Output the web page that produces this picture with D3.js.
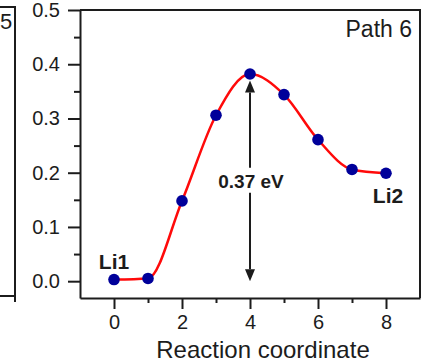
<!DOCTYPE html>
<html>
<head>
<meta charset="utf-8">
<script src="https://cdn.jsdelivr.net/npm/d3@7"></script>
<style>
  body { margin: 0; background: #fff; }
  svg { display: block; font-family: "Liberation Sans", Arial, sans-serif; }
</style>
</head>
<body>
<svg id="chart" width="426" height="364"></svg>
<script>
// energy profile along the path (eV)
const reactionCoord = [0, 1, 2, 3, 4, 5, 6, 7, 8];
const energy = [0.003, 0.005, 0.148, 0.306, 0.382, 0.344, 0.261, 0.206, 0.199];
const xTicks = [0, 2, 4, 6, 8];
const xMinor = [1, 3, 5, 7];
const yTicks = [0.0, 0.1, 0.2, 0.3, 0.4, 0.5];
const yMinor = [0.05, 0.15, 0.25, 0.35, 0.45];
const barrier = 0.37;
const barrierLabel = "0.37 eV";
const panelTitle = "Path 6";
const prevTitleTail = "5"; // only the end of "Path 5" shows from the panel on the left
const startLabel = "Li1";
const endLabel = "Li2";
const xTitle = "Reaction coordinate";

const svg = d3.select("#chart");
const ink = "#1c1c1c";

const x = d3.scaleLinear().domain([-1, 9]).range([80, 420]);
const y = d3.scaleLinear().domain([-0.031, 0.5]).range([298, 10]);

// bit of the neighbouring panel on the left
svg.append("path")
    .attr("d", "M0,7 H15 V302 M0,296 H15")
    .attr("fill", "none").attr("stroke", ink).attr("stroke-width", 2);
svg.append("text")
    .attr("x", 0).attr("y", 29)
    .attr("font-size", 22).attr("fill", ink)
    .text(prevTitleTail);

// frame top + right
svg.append("path")
    .attr("d", "M" + x(-1) + "," + y(0.5) + " H" + x(9) + " V" + y(-0.031))
    .attr("fill", "none").attr("stroke", ink).attr("stroke-width", 2);

function styleAxis(g) {
  g.selectAll("path, line").attr("stroke", ink).attr("stroke-width", 2);
  g.selectAll("text").attr("fill", ink).attr("font-family", "Liberation Sans, Arial, sans-serif");
}

svg.append("g")
    .attr("transform", "translate(" + x(-1) + ",0)")
    .call(d3.axisLeft(y).tickValues(yTicks).tickSize(12).tickSizeOuter(0).tickPadding(8)
      .tickFormat(d3.format(".1f")))
    .call(styleAxis)
    .call(g => g.selectAll("text").attr("font-size", 20));
svg.append("g")
    .attr("transform", "translate(" + x(-1) + ",0)")
    .call(d3.axisLeft(y).tickValues(yMinor).tickSize(6).tickFormat(""))
    .call(styleAxis)
    .call(g => g.select(".domain").remove());

svg.append("g")
    .attr("transform", "translate(0," + y(-0.031) + ")")
    .call(d3.axisBottom(x).tickValues(xTicks).tickSize(11).tickSizeOuter(0).tickPadding(6))
    .call(styleAxis)
    .call(g => g.selectAll("text").attr("font-size", 20));
svg.append("g")
    .attr("transform", "translate(0," + y(-0.031) + ")")
    .call(d3.axisBottom(x).tickValues(xMinor).tickSize(5).tickFormat(""))
    .call(styleAxis)
    .call(g => g.select(".domain").remove());

svg.append("text")
    .attr("x", (x(-1) + x(9)) / 2 + 13).attr("y", 358)
    .attr("text-anchor", "middle")
    .attr("font-size", 24).attr("fill", ink)
    .text(xTitle);

svg.append("text")
    .attr("x", 412).attr("y", 37)
    .attr("text-anchor", "end")
    .attr("font-size", 23).attr("fill", ink)
    .text(panelTitle);

// curve + points
const pts = reactionCoord.map((c, i) => [c, energy[i]]);
svg.append("path")
    .datum(pts)
    .attr("fill", "none")
    .attr("stroke", "#ff0a0a")
    .attr("stroke-width", 2.5)
    .attr("d", d3.line().x(d => x(d[0])).y(d => y(d[1])).curve(d3.curveMonotoneX));

svg.selectAll("circle.pt")
  .data(pts)
  .enter().append("circle")
    .attr("class", "pt")
    .attr("cx", d => x(d[0]))
    .attr("cy", d => y(d[1]))
    .attr("r", 5.8)
    .attr("fill", "#00009a");

// barrier arrow
const ax = x(reactionCoord[4]);
const labelY = y(barrier / 2);
const head = 12, hw = 5;
svg.append("path")
    .attr("d", "M" + ax + "," + (y(barrier) + head) + " V" + (labelY - 13) +
               " M" + ax + "," + (labelY + 12) + " V" + (y(0) - head))
    .attr("stroke", ink).attr("stroke-width", 2).attr("fill", "none");
svg.append("path")
    .attr("d", "M" + ax + "," + y(barrier) + " L" + (ax - hw) + "," + (y(barrier) + head) +
               " L" + (ax + hw) + "," + (y(barrier) + head) + " Z" +
               " M" + ax + "," + y(0) + " L" + (ax - hw) + "," + (y(0) - head) +
               " L" + (ax + hw) + "," + (y(0) - head) + " Z")
    .attr("fill", ink);
svg.append("text")
    .attr("x", ax + 1).attr("y", labelY + 7)
    .attr("text-anchor", "middle")
    .attr("font-size", 19).attr("font-weight", "bold").attr("fill", ink)
    .text(barrierLabel);

svg.append("text")
    .attr("x", x(0)).attr("y", y(energy[0]) - 11)
    .attr("text-anchor", "middle")
    .attr("font-size", 21).attr("font-weight", "bold").attr("fill", ink)
    .text(startLabel);
svg.append("text")
    .attr("x", x(8) + 2).attr("y", y(energy[8]) + 30)
    .attr("text-anchor", "middle")
    .attr("font-size", 21).attr("font-weight", "bold").attr("fill", ink)
    .text(endLabel);
</script>
</body>
</html>
